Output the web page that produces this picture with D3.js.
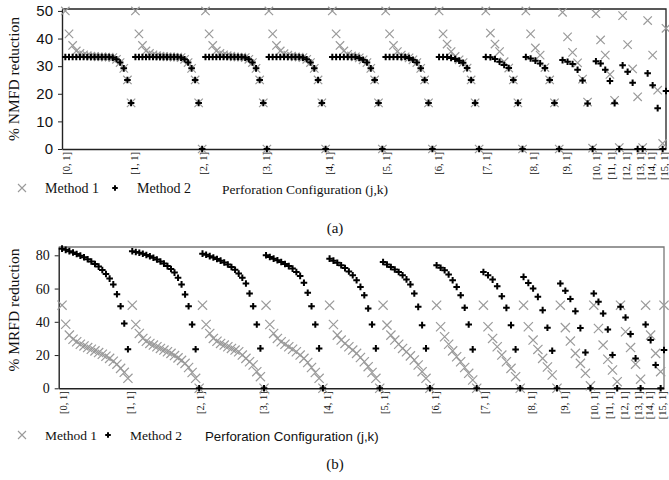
<!DOCTYPE html>
<html>
<head>
<meta charset="utf-8">
<script src="https://cdn.jsdelivr.net/npm/d3@7"></script>
<style>
  body { margin: 0; background: #fff; }
  svg { display: block; }
</style>
</head>
<body>
<div id="wrap"></div>
<script>
//  D3 comes from the global window
const d3 = window.d3;

//  Each perforation group j holds a run of configurations (j,k).
//  Position of the first and last configuration of each group on the x axis
const groupStart = [1, 22, 43, 62, 81, 97, 113, 127, 139, 150, 160, 168, 175.5, 181];
const groupEnd = [20.7, 42, 61.4, 79, 96, 111, 125, 138, 149, 159, 167, 174, 180, 181];

//  Category labels shown under the axis
const tickPos = [1, 21.3, 42, 61, 80, 97, 112.5, 127, 141, 151, 160, 164.5, 169, 173, 176.5, 180.4];
const tickLabels = [
  "[0, 1]", "[1, 1]", "[2, 1]", "[3, 1]", "[4, 1]", "[5, 1]", "[6, 1]", "[7, 1]",
  "[8, 1]", "[9, 1]", "[10, 1]", "[11, 1]", "[12, 1]", "[13, 1]", "[14, 1]", "[15, 1]",
];

//  (a) % NMFD reduction, one array per group
const nmfdMethod1 = [
  [50, 41.7, 37.5, 35.5, 34.6, 34.1, 33.8, 33.6, 33.5, 33.4, 33.4, 33.3, 33.3, 33.1, 32.5, 31.3, 29.2, 25, 16.7],
  [50, 41.7, 37.5, 35.5, 34.6, 34.1, 33.8, 33.6, 33.5, 33.4, 33.4, 33.3, 33.3, 33.1, 32.5, 31.3, 29.2, 25, 16.7, 0],
  [50, 41.7, 37.5, 35.5, 34.6, 34.1, 33.8, 33.6, 33.4, 33.3, 33.3, 33.1, 32.5, 31.3, 29.2, 25, 16.7, 0],
  [50, 41.7, 37.5, 35.5, 34.5, 34, 33.6, 33.4, 33.3, 33.1, 32.5, 31.3, 29.2, 25, 16.7, 0],
  [50, 41.7, 37.5, 35.5, 34.3, 33.7, 33.4, 33, 32.3, 31.3, 29.2, 25, 16.7, 0],
  [50, 41.7, 37.5, 35.3, 34, 33.4, 33, 32.3, 31.3, 29.2, 25, 16.7, 0],
  [50, 41.7, 38, 35.3, 33.5, 32.3, 31.3, 29.3, 25, 16.7, 0],
  [50, 42, 38, 35.3, 31.6, 29.3, 25, 16.7, 0],
  [50, 41.7, 36.6, 34, 29.5, 25, 16.7, 0],
  [49.5, 40.6, 35, 31.2, 25.3, 17, 0.3],
  [49, 39.5, 34, 27, 17.6, 0.5],
  [48.3, 37.8, 29, 18.9, 0.5],
  [46.5, 34, 21.3, 2],
  [43.7],
];
const nmfdMethod2 = [
  [33.3, 33.3, 33.3, 33.3, 33.3, 33.3, 33.3, 33.3, 33.3, 33.3, 33.3, 33.3, 33.3, 33.1, 32.5, 31.3, 29.2, 25, 16.7],
  [33.3, 33.3, 33.3, 33.3, 33.3, 33.3, 33.3, 33.3, 33.3, 33.3, 33.3, 33.3, 33.3, 33.1, 32.5, 31.3, 29.2, 25, 16.7, 0],
  [33.3, 33.3, 33.3, 33.3, 33.3, 33.3, 33.3, 33.3, 33.3, 33.3, 33.3, 33.1, 32.5, 31.3, 29.2, 25, 16.7, 0],
  [33.3, 33.3, 33.3, 33.3, 33.3, 33.3, 33.3, 33.3, 33.3, 33.1, 32.5, 31.3, 29.2, 25, 16.7, 0],
  [33.3, 33.3, 33.3, 33.3, 33.3, 33.3, 33.3, 33, 32.3, 31.3, 29.2, 25, 16.7, 0],
  [33.3, 33.3, 33.3, 33.3, 33.3, 33.3, 33, 32.3, 31.3, 29.2, 25, 16.7, 0],
  [33.3, 33.3, 33.3, 33, 32.6, 32, 31.2, 29.3, 25, 16.7, 0],
  [33.3, 33.2, 32.6, 31.6, 30.4, 29.3, 25, 16.7, 0],
  [33.3, 32.8, 32, 31, 29.3, 25, 16.7, 0],
  [32.2, 31.6, 30.8, 28.7, 24.8, 16.5, 0],
  [31.8, 31, 28.7, 24.6, 16.6, 0],
  [30.3, 28, 24, 0, 0],
  [27.4, 23.1, 14.8, 0],
  [21],
];

//  (b) % MRFD reduction, one array per group
const mrfdMethod1 = [
  [50, 38.5, 32, 29.5, 28, 26.5, 25.5, 24.5, 23.5, 22.5, 21.5, 20.5, 19.3, 18, 16.3, 14.5, 12, 9.6, 6],
  [50, 38.4, 33, 30, 28.3, 27, 26, 25, 24, 23, 22, 21, 19.7, 18.3, 16.8, 15, 12.5, 9.5, 6, 0],
  [50, 38.4, 33, 30, 28.3, 27, 26, 25, 24, 23, 22, 20, 18, 16, 14, 10, 7, 0],
  [50, 38.4, 33, 30, 28, 26.5, 25, 23.5, 22, 20, 18, 15.5, 12.5, 9.5, 6, 0],
  [50, 38.4, 32, 29, 27, 25, 23, 21, 18.5, 16, 13, 9.5, 6, 0],
  [50, 38, 32, 29, 26.5, 24, 22, 19.5, 17, 14, 10, 6, 0],
  [50, 37, 31, 26.5, 22.5, 19, 16, 12.5, 9, 5, 0],
  [50, 37, 30, 25, 20, 16, 12, 7, 0],
  [50, 37, 29, 23.4, 18, 12.8, 8, 0],
  [50, 36.5, 28.4, 21, 15, 9, 1.5],
  [50, 36, 26, 17.5, 11, 4],
  [50, 34, 24.5, 14.5, 5.5],
  [50, 32, 21, 10],
  [50],
];
const mrfdMethod2 = [
  [84, 83.3, 82.5, 81.7, 80.8, 79.8, 78.8, 77.6, 76.3, 74.8, 73.2, 71.2, 68.8, 66, 62.5, 56.6, 49.4, 39, 23.5],
  [82.4, 82, 81.5, 80.9, 80.2, 79.4, 78.5, 77.5, 76.3, 75, 73.5, 71.8, 69.6, 66.5, 62.5, 56.5, 49.4, 38.4, 23.5, 0],
  [81, 80.3, 79.5, 78.7, 77.8, 76.8, 75.7, 74.5, 73, 71.3, 69, 66.5, 63, 57, 49.4, 38.4, 24, 0],
  [80, 79, 78, 77, 76, 74.8, 73.5, 72, 70, 67.6, 63.5, 57.5, 49.4, 38.4, 24, 0],
  [78, 76.8, 75.5, 74, 72.3, 70.3, 68, 65, 61, 56, 48, 38.4, 24, 0],
  [76, 74.5, 73, 71.5, 70, 68, 65.5, 62.5, 57, 49, 38, 24, 0],
  [74, 72.5, 71, 68.5, 65, 61, 56, 48.5, 38.4, 23.4, 0],
  [70, 68, 65.4, 61.4, 55.4, 48.4, 38, 23.4, 0],
  [67, 63.4, 60, 55, 47, 36.4, 22.6, 0],
  [63, 58.7, 53.7, 46.4, 36.2, 21.5, 0],
  [57, 52, 45, 35.4, 20, 0],
  [49, 42.6, 32.6, 18, 0],
  [38.4, 29, 14, 0],
  [23],
];

//  Turn the group arrays into flat {x, v} points, spreading each group
//  evenly between its first and last position
function toPoints(groups) {
  const pts = [];
  groups.forEach((vals, g) => {
    const n = vals.length;
    const step = n > 1 ? (groupEnd[g] - groupStart[g]) / (n - 1) : 0;
    vals.forEach((v, i) => pts.push({ x: groupStart[g] + i * step, v: v }));
  });
  return pts;
}

const crossPath = (a) => `M${-a},${-a}L${a},${a}M${-a},${a}L${a},${-a}`;
const plusPath = (a) => `M${-a},0H${a}M0,${-a}V${a}`;

const svg = d3
  .select("#wrap")
  .append("svg")
  .attr("width", 669)
  .attr("height", 480);

//  Draws one of the two panels
function drawPanel(p) {
  const x = d3.scaleLinear().domain([0, 181]).range([p.left, p.right]);
  const y = d3.scaleLinear().domain([0, p.yMax]).range([p.bottom, p.top]);
  const g = svg.append("g");

  //  frame (top and right)
  g.append("path")
    .attr("d", `M${p.left},${p.top}H${p.right}V${p.bottom}`)
    .attr("fill", "none")
    .attr("stroke", p.frame)
    .attr("stroke-width", 1.3);

  //  y axis
  const yAxis = g
    .append("g")
    .attr("transform", `translate(${p.left},0)`)
    .call(d3.axisLeft(y).tickValues(p.yTicks).tickSize(4).tickSizeOuter(0).tickPadding(5));
  yAxis.selectAll("text")
    .style("font-family", p.yFont)
    .style("font-size", p.yFontSize + "px")
    .attr("fill", "#111");
  yAxis.select(".domain").attr("stroke", "#222").attr("stroke-width", 1.4);
  yAxis.selectAll(".tick line").attr("stroke", "#222");

  //  x axis with rotated category labels
  const xAxis = g
    .append("g")
    .attr("transform", `translate(0,${p.bottom})`)
    .call(
      d3.axisBottom(x)
        .tickValues(tickPos)
        .tickFormat((d, i) => tickLabels[i])
        .tickSize(0)
        .tickSizeOuter(0)
    );
  xAxis.select(".domain").attr("stroke", "#222").attr("stroke-width", 1.4);
  xAxis.selectAll("text")
    .attr("transform", "rotate(-90)")
    .attr("x", -3)
    .attr("y", 4)
    .attr("dy", "0")
    .style("text-anchor", "end")
    .style("font-family", "Liberation Serif")
    .style("font-size", "10.5px")
    .attr("fill", "#111");

  //  Method 1 (grey x)
  g.append("g")
    .selectAll("path")
    .data(toPoints(p.m1))
    .enter()
    .append("path")
    .attr("transform", (d) => `translate(${x(d.x)},${y(d.v)})`)
    .attr("d", crossPath(p.crossSize))
    .attr("fill", "none")
    .attr("stroke", "#9a9a9a")
    .attr("stroke-width", 1.2);

  //  Method 2 (black +)
  g.append("g")
    .selectAll("path")
    .data(toPoints(p.m2))
    .enter()
    .append("path")
    .attr("transform", (d) => `translate(${x(d.x)},${y(d.v)})`)
    .attr("d", plusPath(3.3))
    .attr("fill", "none")
    .attr("stroke", "#000")
    .attr("stroke-width", 2);

  //  y title
  g.append("text")
    .attr("transform", `translate(${p.yTitleX},${p.yTitleY}) rotate(-90)`)
    .attr("text-anchor", "middle")
    .style("font-family", "Liberation Serif")
    .style("font-size", "15.5px")
    .attr("fill", "#111")
    .text(p.yTitle);

  //  legend row
  g.append("path")
    .attr("transform", `translate(22,${p.legendY})`)
    .attr("d", crossPath(4))
    .attr("stroke", "#9a9a9a")
    .attr("stroke-width", 1.1);
  g.append("text")
    .attr("x", 45).attr("y", p.legendY + 5)
    .style("font-family", "Liberation Serif").style("font-size", p.legendSize + "px")
    .attr("fill", "#111")
    .text("Method 1");
  g.append("path")
    .attr("transform", `translate(${p.plusX},${p.legendY})`)
    .attr("d", plusPath(2.8))
    .attr("stroke", "#000")
    .attr("stroke-width", 2);
  g.append("text")
    .attr("x", p.m2X).attr("y", p.legendY + 5)
    .style("font-family", "Liberation Serif").style("font-size", p.legendSize + "px")
    .attr("fill", "#111")
    .text("Method 2");
  g.append("text")
    .attr("x", p.xTitleX).attr("y", p.legendY + 6)
    .style("font-family", p.xTitleFont).style("font-size", p.xTitleSize + "px")
    .attr("fill", "#111")
    .text("Perforation Configuration (j,k)");

  //  panel caption
  g.append("text")
    .attr("x", 335).attr("y", p.captionY)
    .attr("text-anchor", "middle")
    .style("font-family", "Liberation Serif").style("font-size", "15px")
    .attr("fill", "#111")
    .text(p.caption);
}

drawPanel({
  left: 62, right: 666, top: 9, bottom: 149, yMax: 50.7,
  yTicks: [0, 10, 20, 30, 40, 50], yFont: "Liberation Sans", yFontSize: 15,
  frame: "#222", crossSize: 4.2,
  m1: nmfdMethod1, m2: nmfdMethod2,
  yTitle: "% NMFD reduction", yTitleX: 19, yTitleY: 79,
  legendY: 188, legendSize: 14, plusX: 115, m2X: 137,
  xTitleX: 222, xTitleFont: "Liberation Serif", xTitleSize: 13.5,
  caption: "(a)", captionY: 233,
});

drawPanel({
  left: 58.7, right: 664, top: 247, bottom: 388.3, yMax: 85,
  yTicks: [0, 20, 40, 60, 80], yFont: "Liberation Serif", yFontSize: 14,
  frame: "#777", crossSize: 4.6,
  m1: mrfdMethod1, m2: mrfdMethod2,
  yTitle: "% MRFD reduction", yTitleX: 19, yTitleY: 310,
  legendY: 435, legendSize: 13.5, plusX: 108, m2X: 130,
  xTitleX: 205, xTitleFont: "Liberation Sans", xTitleSize: 13.3,
  caption: "(b)", captionY: 469,
});
</script>
</body>
</html>
